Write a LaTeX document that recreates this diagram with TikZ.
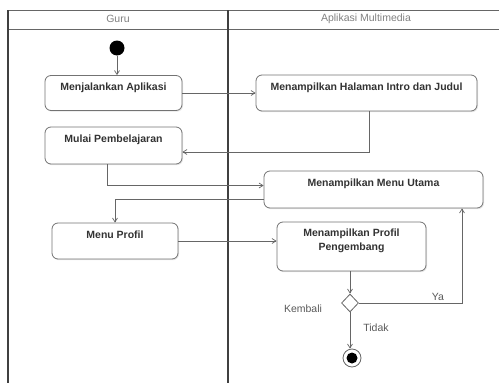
\documentclass[tikz,border=0pt]{standalone}
\usepackage{fontspec}
\setmainfont{Liberation Sans}
\usetikzlibrary{arrows.meta,shapes.geometric,shadows}
\begin{document}
\begin{tikzpicture}[x=1pt,y=-1pt,
  lane/.style={draw=black!75, line width=1.2pt},
  headtext/.style={text=black!50, font=\fontsize{10.5}{12}\selectfont, inner sep=0pt},
  act/.style={draw=black!55, line width=0.8pt, rounded corners=6pt, fill=white,
    font=\fontsize{10.5}{14}\selectfont\bfseries, text=black!80, text depth=13pt,
    align=center, inner sep=0pt,
    drop shadow={opacity=0.2, shadow xshift=1pt, shadow yshift=-1.2pt}},
  conn/.style={draw=black!60, line width=0.7pt, -{Straight Barb[length=4pt,width=5pt]}},
  lbl/.style={text=black!65, font=\fontsize{10.5}{12}\selectfont, inner sep=0pt},
  startnode/.style={circle, fill=black, minimum size=15pt, inner sep=0pt},
  endnode/.style={circle, draw=black!60, line width=0.8pt, fill=white, minimum size=18pt, inner sep=0pt,
    path picture={\fill[black] (path picture bounding box.center) circle (5.5pt);}},
  decision/.style={diamond, draw=black!60, line width=0.8pt, fill=white, minimum width=17pt, minimum height=18pt, inner sep=0pt, aspect=1}
]
\useasboundingbox (0,0) rectangle (499,383);
% swimlanes
\draw[lane, black!60, line width=1pt] (8,10) -- (499,10);
\draw[lane, black!60, line width=1pt] (8,29) -- (499,29);
\draw[lane] (8,10) -- (8,383);
\draw[lane] (228,10) -- (228,383);
\node[headtext] (hguru) at (118,19) {Guru};
\node[headtext] (happ) at (366,19) {Aplikasi Multimedia};

% nodes
\node[startnode] (start) at (117,48) {};
\node[act, minimum width=137pt, minimum height=35pt] (a) at (113.5,93) {Menjalankan Aplikasi};
\node[act, minimum width=221pt, minimum height=36pt] (b) at (366.5,93) {Menampilkan Halaman Intro dan Judul};
\node[act, minimum width=137pt, minimum height=37pt] (c) at (113.5,145.5) {Mulai Pembelajaran};
\node[act, minimum width=219pt, minimum height=37pt] (d) at (373.5,189.5) {Menampilkan Menu Utama};
\node[act, minimum width=126pt, minimum height=36pt] (e) at (115,241) {Menu Profil};
\node[act, minimum width=149pt, minimum height=49pt, text depth=14pt] (f) at (351.5,246.5) {Menampilkan Profil\\Pengembang};
\node[decision] (dec) at (350,303) {};
\node[endnode] (end) at (352,358) {};

% labels
\node[lbl] (lkembali) at (303,309) {Kembali};
\node[lbl] (lya) at (438,297) {Ya};
\node[lbl] (ltidak) at (376,328) {Tidak};

% connectors
\draw[conn] (start) -- (a.north -| start);
\draw[conn] (a.east) -- (b.west);
\draw[conn] ([xshift=2.5pt]b.south) |- ([yshift=-6.5pt]c.east);
\draw[conn] ([xshift=-6.5pt]c.south) |- ([yshift=4pt]d.west);
\draw[conn] ([yshift=-10pt]d.west) -| (e.north);
\draw[conn] (e.east) -- (e.east -| f.west);
\draw[conn] (f.south -| dec) -- (dec.north);
\draw[conn] (dec.east) -| ([xshift=88.5pt]d.south);
\draw[conn] (dec.south) -- (end.north -| dec);
\end{tikzpicture}
\end{document}
